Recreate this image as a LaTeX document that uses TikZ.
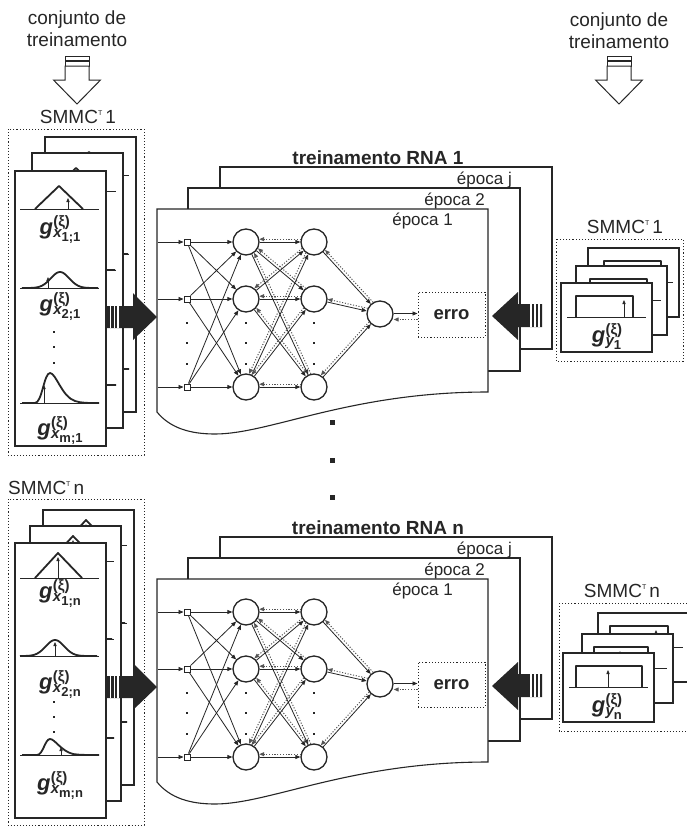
\documentclass[tikz,border=0pt]{standalone}
\usepackage{fontspec}
\setmainfont{Liberation Sans}
\usetikzlibrary{arrows.meta,calc}
\definecolor{ink}{HTML}{262626}
\definecolor{back}{HTML}{555555}

\tikzset{
  frame/.style={draw=ink, fill=white, line width=1.1pt},
  card/.style={draw=ink, fill=white, line width=1.1pt},
  dotbox/.style={draw=ink, line width=1pt, dash pattern=on 1.1pt off 2pt},
  axisline/.style={draw=ink, line width=0.9pt},
  curve/.style={draw=ink, line width=1.8pt, line join=round},
  tick/.style={draw=ink, line width=0.8pt, -{Triangle[length=4pt,width=3.2pt]}},
  neuron/.style={circle, draw=ink, line width=1.3pt, fill=white, minimum size=26pt, inner sep=0pt},
  inbox/.style={rectangle, draw=ink, line width=0.9pt, fill=white, minimum size=6pt, inner sep=0pt},
  fwd/.style={draw=ink, line width=0.8pt, -{Triangle[length=5pt,width=4pt]}},
  bwd/.style={draw=back, line width=1pt, dash pattern=on 1.1pt off 1.7pt, -{Triangle[length=5pt,width=4pt]}},
  lbl/.style={text=ink, inner sep=0pt, anchor=base, font=\fontsize{19}{19}\selectfont},
  title/.style={text=ink, inner sep=0pt, anchor=base, font=\fontsize{19}{19}\selectfont\bfseries},
  epoch/.style={text=ink, inner sep=0pt, anchor=base east, font=\fontsize{17}{17}\selectfont},
  errbox/.style={draw=ink, line width=1pt, dash pattern=on 1.1pt off 2pt, minimum width=67pt,
    minimum height=45pt, inner sep=0pt, text=ink, font=\fontsize{18.5}{18.5}\selectfont\bfseries},
  glabel/.style={text=ink, inner sep=0pt},
  hollow/.style={draw=ink, line width=1pt, fill=white},
}

% SMMC^T label
\newcommand\smmc[1]{SMMC\raisebox{8pt}{\fontsize{7}{7}\selectfont T}\,#1}

% g with superscript (xi) and a two-level subscript
\newcommand\glab[2]{\bgroup\bfseries
  \setbox0=\hbox{\fontsize{15}{15}\selectfont(ξ)}%
  \setbox2=\hbox{\fontsize{15}{15}\selectfont\itshape\raise-3pt\hbox{#1}\raise-7.5pt\hbox{\upshape\fontsize{13}{13}\selectfont #2}}%
  \dimen0=\wd0 \ifdim\wd2>\dimen0 \dimen0=\wd2 \fi
  \fontsize{22}{22}\selectfont\itshape g\kern0.3pt
  \hbox to\dimen0{\rlap{\raise7.5pt\box0}\box2\hss}\egroup}

% input card, first series (local coordinates, top-left corner at origin)
\newcommand\cardA{%
  \draw[card] (0,0) rectangle (91,275);
  \draw[axisline] (5,38) -- (84,38);
  \draw[curve] (20,38) -- (44,15) -- (68,38);
  \draw[tick] (53,38) -- (53,27);
  \draw[axisline] (5,117) -- (84,117);
  \draw[curve] plot[domain=-38:38, samples=70, smooth] ({45+\x},{117-16*exp(-(\x/13)*(\x/13))});
  \draw[tick] (33,117) -- (33,106);
  \foreach \yy in {161,176,192} \fill[ink] (38,\yy-1) rectangle +(2,2);
  \draw[axisline] (5,232) -- (84,232);
  \draw[curve] (7,232) -- (20,232) .. controls (27,232) and (29,202) .. (35,202)
     .. controls (41,202) and (47,226) .. (60,230) .. controls (66,232) and (72,232) .. (84,232);
  \draw[tick] (29,232) -- (29,214);
}

% input card, second series
\newcommand\cardB{%
  \draw[card] (0,0) rectangle (91,275);
  \draw[axisline] (5,35) -- (84,35);
  \draw[curve] (20,35) -- (43,10) -- (67,35);
  \draw[tick] (43,35) -- (43,14);
  \draw[axisline] (5,113) -- (84,113);
  \draw[curve] plot[domain=-35:42, samples=70, smooth] ({40+\x},{113-16*exp(-(\x/13)*(\x/13))});
  \draw[tick] (40,113) -- (40,99);
  \foreach \yy in {159,174,189} \fill[ink] (38,\yy-1) rectangle +(2,2);
  \draw[axisline] (5,212) -- (84,212);
  \draw[curve] (7,212) -- (22,212) .. controls (28,212) and (30,196) .. (35,196)
     .. controls (40,196) and (46,208) .. (58,211) .. controls (64,212) and (72,212) .. (84,212);
  \draw[tick] (46,212) -- (46,204);
}

% output card: pulse from #1 to #2, marker at #3
\newcommand\rcard[3]{%
  \draw[card] (0,0) rectangle (91,69);
  \draw[axisline] (6,34) -- (85,34);
  \draw[curve] (#1,34) -- (#1,13) -- (#2,13) -- (#2,34);
  \draw[tick] (#3,34) -- (#3,17);
}

% one training block: epochs, network, error box
\newcommand\network[2]{%
  \draw[frame] (220,167) rectangle (552,349);
  \node[epoch] (#1ej) at (512,184) {época j};
  \draw[frame] (188,188) rectangle (520,371);
  \node[epoch] (#1e2) at (485,205) {época 2};
  \draw[frame] (157,209) -- (488,209) -- (488,392)
     .. controls (350,392) and (270,434) .. (215,434)
     .. controls (190,434) and (170,428) .. (157,412) -- cycle;
  \node[epoch] (#1e1) at (453,225) {época 1};
  \node[title] (#1t) at (378,164) {treinamento RNA #2};
  \foreach \r/\yy in {1/242,2/299,3/387}{
    \coordinate (#1s\r) at (158,\yy);
    \node[inbox] (#1i\r) at (187,\yy) {};
    \node[neuron] (#1h\r) at (246,\yy) {};
    \node[neuron] (#1g\r) at (314,\yy) {};
  }
  \node[neuron] (#1o) at (380,314) {};
  \node[errbox] (#1err) at (451.5,314.5) {erro};
  \foreach \xx in {187,246,314}
    \foreach \yy in {323,343,364} \fill[ink] (\xx-1,\yy-1) rectangle +(2,2);
  \foreach \a in {1,2,3}{
    \draw[fwd] (#1s\a) -- (#1i\a);
    \foreach \b in {1,2,3}{
      \draw[fwd] (#1i\a) -- (#1h\b);
      \draw[fwd] (#1h\a) -- (#1g\b);
      \draw[bwd] let \p1=($(#1h\a)-(#1g\b)$), \n1={atan2(\y1,\x1)} in
        ($(#1g\b)+(\n1-12:13.5pt)$) -- ($(#1h\a)+(\n1+192:13.5pt)$);
    }
    \draw[fwd] (#1g\a) -- (#1o);
    \draw[bwd] let \p1=($(#1g\a)-(#1o)$), \n1={atan2(\y1,\x1)} in
      ($(#1o)+(\n1-12:13.5pt)$) -- ($(#1g\a)+(\n1+192:13.5pt)$);
  }
  \coordinate (#1oe) at ([yshift=0.5pt]#1o.east);
  \draw[fwd] (#1oe) -- (#1oe -| #1err.west);
  \coordinate (#1ew) at ([yshift=-5pt]#1err.west);
  \draw[bwd] (#1ew) -- (#1ew -| #1o.east);
}

\begin{document}
\begin{tikzpicture}[x=1pt,y=-1pt]
\useasboundingbox (0,0) rectangle (687,827);

% ---- training-set headers with hollow arrows
\node[lbl] (setL1) at (77,24) {conjunto de};
\node[lbl] (setL2) at (77,46) {treinamento};
\node[lbl] (setR1) at (619,26) {conjunto de};
\node[lbl] (setR2) at (619,48) {treinamento};
\foreach \cx in {77,619}{
  \draw[hollow] (\cx-12,56) rectangle (\cx+12,60);
  \draw[hollow] (\cx-12,61.5) rectangle (\cx+12,66);
  \draw[hollow] (\cx-12,66) -- (\cx+12,66) -- (\cx+12,80) -- (\cx+23.5,80) -- (\cx,104)
     -- (\cx-23.5,80) -- (\cx-12,80) -- cycle;
}

% ---- first training block
\network{A}{1}

% input stack 1
\draw[dotbox] (8,129) rectangle (144,455);
\node[lbl] (smL1) at (78,123) {\smmc{1}};
\begin{scope}[shift={(45,137)}] \cardA \end{scope}
\begin{scope}[shift={(32,153)}] \cardA \end{scope}
\begin{scope}[shift={(15,171)}] \cardA \end{scope}
\node[glabel] (gx11) at (60,230) {\glab{x}{1;1}};
\node[glabel] (gx21) at (60,307) {\glab{x}{2;1}};
\node[glabel] (gxm1) at (60,431) {\glab{x}{m;1}};

% output stack 1
\draw[dotbox] (556,239) rectangle (683,361);
\node[lbl] (smR1) at (625,233) {\smmc{1}};
\begin{scope}[shift={(588,248)}] \rcard{16}{73}{36} \end{scope}
\begin{scope}[shift={(576,266)}] \rcard{14}{71}{50} \end{scope}
\begin{scope}[shift={(561,283)}] \rcard{15}{72}{63} \end{scope}
\node[glabel] (gy1) at (607,337) {\glab{y}{1}};

% ---- second training block
\begin{scope}[shift={(0,370)}]
  \network{B}{n}
\end{scope}

% input stack n
\draw[dotbox] (8,499) rectangle (144,825);
\node[lbl, anchor=base west] (smLn) at (8,494) {\smmc{n}};
\begin{scope}[shift={(43,510)}] \cardB \end{scope}
\begin{scope}[shift={(30,526)}] \cardB \end{scope}
\begin{scope}[shift={(15,543)}] \cardB \end{scope}
\node[glabel] (gx1n) at (60,594) {\glab{x}{1;n}};
\node[glabel] (gx2n) at (60,685) {\glab{x}{2;n}};
\node[glabel] (gxmn) at (60,786) {\glab{x}{m;n}};

% output stack n
\draw[dotbox] (559,603) rectangle (695,731);
\node[lbl] (smRn) at (622,597) {\smmc{n}};
\begin{scope}[shift={(598,613)}] \rcard{12}{70}{58} \end{scope}
\begin{scope}[shift={(582,634)}] \rcard{12}{66}{38} \end{scope}
\begin{scope}[shift={(563,653)}] \rcard{13}{79}{45} \end{scope}
\node[glabel] (gyn) at (607,707) {\glab{y}{n}};

% ---- solid feed arrows (inputs in, targets in)
\foreach \dy in {0,370}{
  \fill[ink] (107,306+\dy) -- (133,306+\dy) -- (133,293+\dy) -- (157,317+\dy) -- (133,340+\dy)
     -- (133,328+\dy) -- (107,328+\dy) -- cycle;
  \foreach \sx in {110.2,114.2,118}
    \draw[white, line width=1.3pt] (\sx,306+\dy) -- (\sx,328+\dy);
  \fill[ink] (542,304+\dy) -- (518,304+\dy) -- (518,292+\dy) -- (492,316+\dy) -- (518,340+\dy)
     -- (518,327+\dy) -- (542,327+\dy) -- cycle;
  \foreach \sx in {531,535,539}
    \draw[white, line width=1.3pt] (\sx,304+\dy) -- (\sx,327+\dy);
}

% ---- ellipsis between the blocks
\foreach \yy in {422,460,497} \fill[ink] (329.5,\yy-2.5) rectangle +(5,5);

\end{tikzpicture}
\end{document}
